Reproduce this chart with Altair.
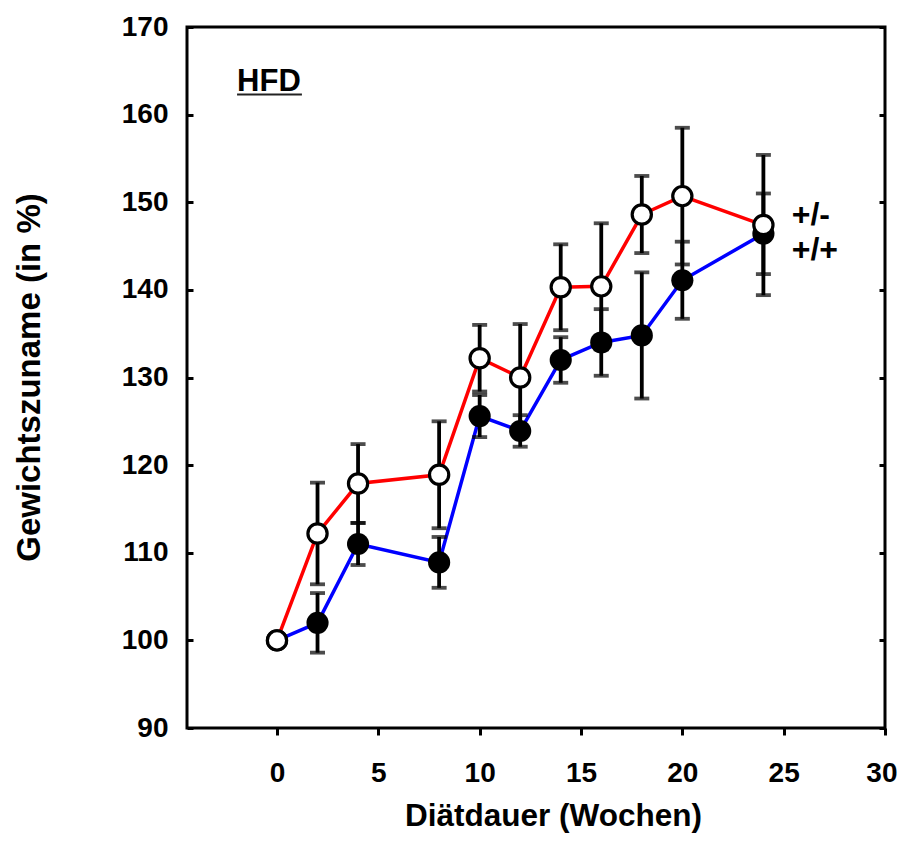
import altair as alt
import pandas as pd

# ---- data ----
weeks = [0, 2, 4, 8, 10, 12, 14, 16, 18, 20, 24]
het_mean = [100, 112.2, 117.9, 118.9, 132.2, 130.0, 140.3, 140.4, 148.6, 150.7, 147.4]   # +/-  (open, red)
het_err = [0, 5.8, 4.5, 6.1, 3.8, 6.1, 4.9, 7.2, 4.4, 7.8, 8.0]
wt_mean = [100, 102.0, 111.0, 108.9, 125.6, 123.9, 132.0, 134.0, 134.8, 141.1, 146.4]    # +/+  (filled, blue)
wt_err = [0, 3.4, 2.4, 2.9, 2.4, 1.8, 2.6, 3.8, 7.2, 4.4, 4.6]

x_ticks = [0, 5, 10, 15, 20, 25, 30]
y_ticks = [90, 100, 110, 120, 130, 140, 150, 160, 170]
x_domain = [-4.44, 30]
y_domain = [90, 170]

ann_text = ["HFD", "+/-", "+/+"]
ann_x = [-1.97, 25.4, 25.4]
ann_y = [162.7, 147.4, 143.4]
ann_size = [31, 32, 32]

underline_x = [-1.97]
underline_x2 = [1.23]
underline_y = [162.3]

FONT = "Liberation Sans"

rows = []
for w, m, e in zip(weeks, het_mean, het_err):
    rows.append({"week": w, "mean": m, "err": e, "lo": m - e, "hi": m + e, "grp": "+/-"})
for w, m, e in zip(weeks, wt_mean, wt_err):
    rows.append({"week": w, "mean": m, "err": e, "lo": m - e, "hi": m + e, "grp": "+/+"})
df = pd.DataFrame(rows)
het = df[df.grp == "+/-"]
wt = df[df.grp == "+/+"]
errs = df[df.err > 0]

ann = pd.DataFrame({"t": ann_text, "x": ann_x, "y": ann_y, "fs": ann_size})
ul = pd.DataFrame({"x": underline_x, "x2": underline_x2, "y": underline_y})

xscale = alt.Scale(domain=x_domain, nice=False, zero=False)
yscale = alt.Scale(domain=y_domain, nice=False, zero=False)

X = alt.X("week:Q", scale=xscale, axis=alt.Axis(
    values=x_ticks, orient="bottom", domain=False, grid=False,
    tickSize=7, tickWidth=3, tickColor="black",
    labelFontSize=28, labelPadding=24, labelColor="black",
    labelFlush=True, labelFlushOffset=12,
    title="Diätdauer (Wochen)", titleFontSize=31.5, titleX=366, titleY=97,
    titleAlign="center", titleBaseline="alphabetic", titleColor="black"))

Yleft = alt.Y("mean:Q", scale=yscale, axis=alt.Axis(
    values=y_ticks, orient="left", offset=-6, domain=False, grid=False,
    tickSize=6, tickWidth=3, tickColor="black",
    labelFontSize=28, labelPadding=19, labelColor="black", labelFlush=False,
    title="Gewichtszuname (in %)", titleFontSize=33, titleX=-154, titleY=350,
    titleAngle=270, titleAlign="center", titleBaseline="alphabetic", titleColor="black"))

blue_line = alt.Chart(wt).mark_line(color="#0000FF", strokeWidth=3.5).encode(x=X, y=Yleft)
red_line = alt.Chart(het).mark_line(color="#FF0000", strokeWidth=3.5).encode(x=X, y=Yleft)
err_rule = alt.Chart(errs).mark_rule(color="black", strokeWidth=3.8).encode(
    x=X, y=alt.Y("lo:Q", scale=yscale), y2="hi:Q")
cap_lo = alt.Chart(errs).mark_tick(color="black", thickness=3.8, size=15, orient="horizontal").encode(
    x=X, y=alt.Y("lo:Q", scale=yscale))
cap_hi = alt.Chart(errs).mark_tick(color="black", thickness=3.8, size=15, orient="horizontal").encode(
    x=X, y=alt.Y("hi:Q", scale=yscale))
filled = alt.Chart(wt).mark_circle(color="black", opacity=1, size=490).encode(x=X, y=Yleft)
opened = alt.Chart(het).mark_point(shape="circle", filled=False, fill="white", fillOpacity=1,
                                   stroke="black", strokeWidth=3.2, opacity=1, size=370).encode(x=X, y=Yleft)

main = alt.layer(blue_line, red_line, err_rule, cap_lo, cap_hi, filled, opened)

Yright = alt.Y("y:Q", scale=yscale, axis=alt.Axis(
    values=y_ticks, orient="right", offset=-6, domain=False, grid=False, labels=False,
    tickSize=6, tickWidth=3, tickColor="black", title=None))
Xann = alt.X("x:Q", scale=xscale)

texts = alt.Chart(ann).mark_text(align="left", baseline="alphabetic", font=FONT,
                                 fontWeight="bold", color="black").encode(
    x=Xann, y=Yright, text="t:N", size=alt.Size("fs:Q", scale=None))
uline = alt.Chart(ul).mark_rule(color="#222222", strokeWidth=2).encode(
    x=Xann, x2="x2:Q", y=Yright)

annot = alt.layer(texts, uline)

chart = alt.layer(main, annot).resolve_scale(y="independent").properties(
    width=698, height=701,
    background="white",
    autosize=alt.AutoSizeParams(type="none"),
    padding={"left": 179, "top": 19, "right": 12, "bottom": 105},
).configure_view(stroke="black", strokeWidth=3).configure_axis(
    labelFont=FONT, titleFont=FONT, labelFontWeight="bold", titleFontWeight="bold"
)

chart.save("out.html", embed_options={"renderer": "svg", "actions": False})
